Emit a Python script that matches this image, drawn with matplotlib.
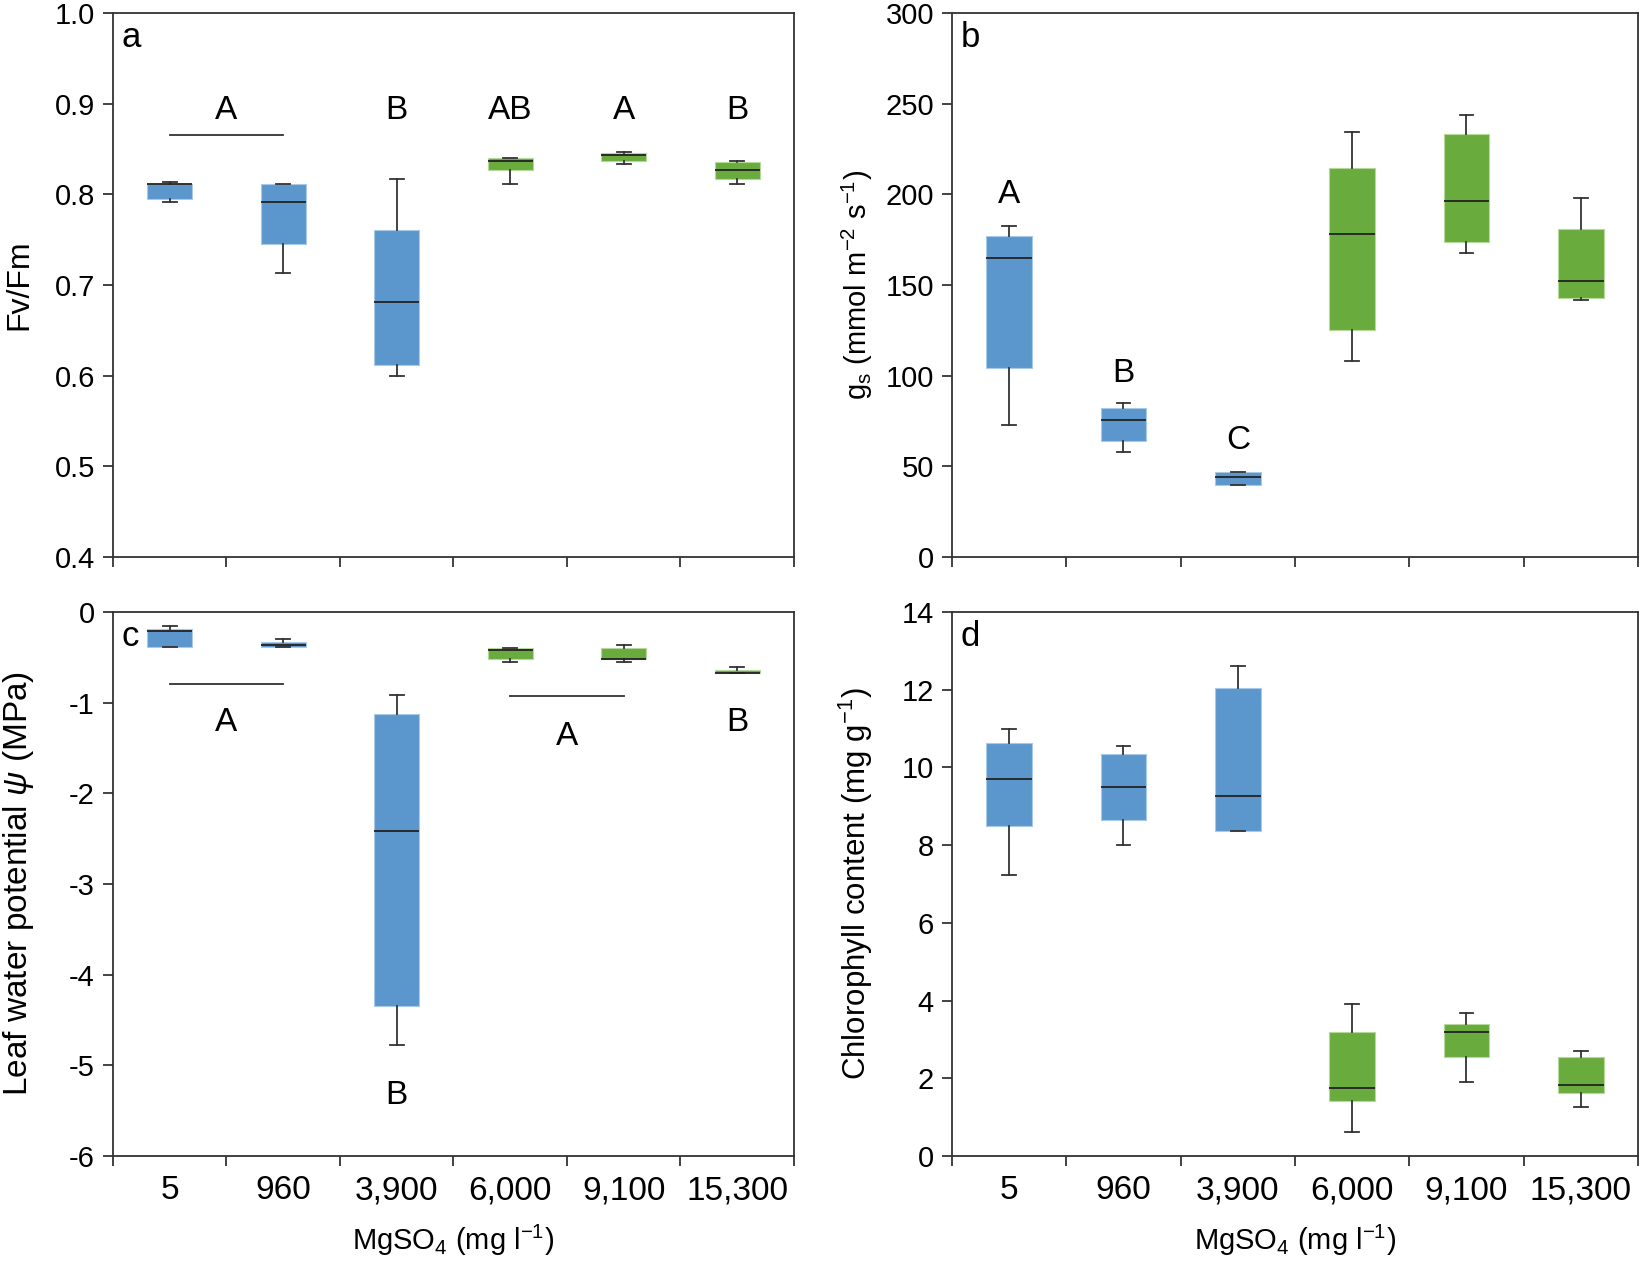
import matplotlib
matplotlib.use("Agg")
import matplotlib.pyplot as plt

plt.rcParams['font.family'] = ['Liberation Sans', 'DejaVu Sans']
plt.rcParams['mathtext.fontset'] = 'custom'
plt.rcParams['mathtext.rm'] = 'Liberation Sans'
plt.rcParams['mathtext.it'] = 'Liberation Sans:italic'
plt.rcParams['axes.unicode_minus'] = False

labels = ['5', '960', '3,900', '6,000', '9,100', '15,300']
colors = ['#5b97cc', '#5b97cc', '#5b97cc', '#6aab3e', '#6aab3e', '#6aab3e']
edges = ['#a9c9e8', '#a9c9e8', '#a9c9e8', '#b5d99a', '#b5d99a', '#b5d99a']

# a: Fv/Fm
fv_lo = [0.791, 0.713, 0.600, 0.811, 0.834, 0.811]
fv_q1 = [0.795, 0.745, 0.612, 0.827, 0.837, 0.817]
fv_med = [0.811, 0.791, 0.681, 0.837, 0.843, 0.827]
fv_q3 = [0.811, 0.811, 0.761, 0.840, 0.846, 0.836]
fv_hi = [0.814, 0.811, 0.817, 0.840, 0.847, 0.837]

# b: stomatal conductance
gs_lo = [73, 58, 39.5, 108, 167.5, 141.5]
gs_q1 = [104, 64, 39.5, 125, 173.5, 143]
gs_med = [164.7, 75.8, 44, 178, 196.5, 152]
gs_q3 = [176.8, 82, 46.8, 214.7, 233, 181]
gs_hi = [182.7, 85, 46.8, 234.4, 243.7, 198]

# c: leaf water potential
wp_lo = [-0.39, -0.39, -4.78, -0.548, -0.548, -0.672]
wp_q1 = [-0.39, -0.39, -4.35, -0.518, -0.52, -0.672]
wp_med = [-0.206, -0.36, -2.41, -0.423, -0.518, -0.669]
wp_q3 = [-0.184, -0.335, -1.125, -0.40, -0.397, -0.643]
wp_hi = [-0.154, -0.301, -0.912, -0.397, -0.368, -0.61]

# d: chlorophyll
ch_lo = [7.22, 8.0, 8.36, 0.62, 1.91, 1.27]
ch_q1 = [8.49, 8.65, 8.36, 1.41, 2.55, 1.62]
ch_med = [9.70, 9.49, 9.27, 1.76, 3.19, 1.83]
ch_q3 = [10.62, 10.34, 12.05, 3.18, 3.40, 2.55]
ch_hi = [10.98, 10.56, 12.62, 3.91, 3.68, 2.69]

fig = plt.figure(figsize=(16.4, 12.62), dpi=100)
W, H = 1640, 1262


def make_ax(x0, y0, x1, y1):
    return fig.add_axes([x0 / W, 1 - y1 / H, (x1 - x0) / W, (y1 - y0) / H])


def draw(ax, lo, q1, med, q3, hi, ylim, yticks, ylabel, letter, bottom, labx, labsize):
    stats = []
    for i in range(len(labels)):
        stats.append(dict(med=med[i], q1=q1[i], q3=q3[i], whislo=lo[i], whishi=hi[i], fliers=[]))
    bp = ax.bxp(stats, positions=range(1, 7), widths=0.4, patch_artist=True,
                showfliers=False, capwidths=0.12,
                medianprops=dict(color='#222222', lw=1.3),
                whiskerprops=dict(color='#333333', lw=1.3),
                capprops=dict(color='#333333', lw=1.3))
    for patch, c, e in zip(bp['boxes'], colors, edges):
        patch.set_facecolor(c)
        patch.set_edgecolor(e)
        patch.set_linewidth(0.8)
    ax.set_xlim(0.5, 6.5)
    ax.set_ylim(*ylim)
    ax.set_yticks(yticks)
    ax.set_xticks([0.5, 1.5, 2.5, 3.5, 4.5, 5.5, 6.5])
    ax.set_xticklabels([])
    ax.set_xticks(range(1, 7), minor=True)
    if bottom:
        ax.set_xticklabels(labels, minor=True)
        ax.set_xlabel('MgSO$_4$ (mg l$^{-1}$)', fontsize=21, labelpad=12)
    else:
        ax.set_xticklabels([], minor=True)
    ax.tick_params(axis='x', which='minor', length=0, pad=14, labelsize=24)
    ax.tick_params(axis='both', which='major', direction='out', length=7, width=1.2,
                   labelsize=21, pad=6, color='#222222')
    for s in ax.spines.values():
        s.set_linewidth(1.3)
        s.set_color('#333333')
    ax.set_ylabel(ylabel, fontsize=labsize)
    ax.yaxis.set_label_coords(labx, 0.5)
    ax.text(0.012, 0.985, letter, transform=ax.transAxes, ha='left', va='top', fontsize=25)


axa = make_ax(113, 13, 794, 557)
axb = make_ax(952, 13, 1638, 557)
axc = make_ax(113, 612, 794, 1156)
axd = make_ax(952, 612, 1638, 1156)

draw(axa, fv_lo, fv_q1, fv_med, fv_q3, fv_hi, (0.4, 1.0),
     [0.4, 0.5, 0.6, 0.7, 0.8, 0.9, 1.0], 'Fv/Fm', 'a', False, -0.115, 23)
axa.set_yticklabels(['0.4', '0.5', '0.6', '0.7', '0.8', '0.9', '1.0'])
draw(axb, gs_lo, gs_q1, gs_med, gs_q3, gs_hi, (0, 300),
     range(0, 301, 50), 'g$_\\mathrm{s}$ (mmol m$^{-2}$ s$^{-1}$)', 'b', False, -0.112, 21)
draw(axc, wp_lo, wp_q1, wp_med, wp_q3, wp_hi, (-6, 0),
     range(-6, 1), 'Leaf water potential $\\mathit{\\psi}$ (MPa)', 'c', True, -0.113, 24)
draw(axd, ch_lo, ch_q1, ch_med, ch_q3, ch_hi, (0, 14),
     range(0, 15, 2), 'Chlorophyll content (mg g$^{-1}$)', 'd', True, -0.112, 22.5)

fs = 24
# significance letters
for x, t in [(1.5, 'A'), (3, 'B'), (4, 'AB'), (5, 'A'), (6, 'B')]:
    axa.text(x, 0.893, t, ha='center', va='center', fontsize=fs)
axa.plot([1, 2], [0.865, 0.865], color='#333333', lw=1.3)

for x, y, t in [(1, 200, 'A'), (2, 101, 'B'), (3, 64, 'C')]:
    axb.text(x, y, t, ha='center', va='center', fontsize=fs)

axc.plot([1, 2], [-0.79, -0.79], color='#333333', lw=1.3)
axc.plot([4, 5], [-0.93, -0.93], color='#333333', lw=1.3)
for x, y, t in [(1.5, -1.22, 'A'), (3, -5.33, 'B'), (4.5, -1.37, 'A'), (6, -1.22, 'B')]:
    axc.text(x, y, t, ha='center', va='center', fontsize=fs)

fig.savefig('out.png', dpi=100)
